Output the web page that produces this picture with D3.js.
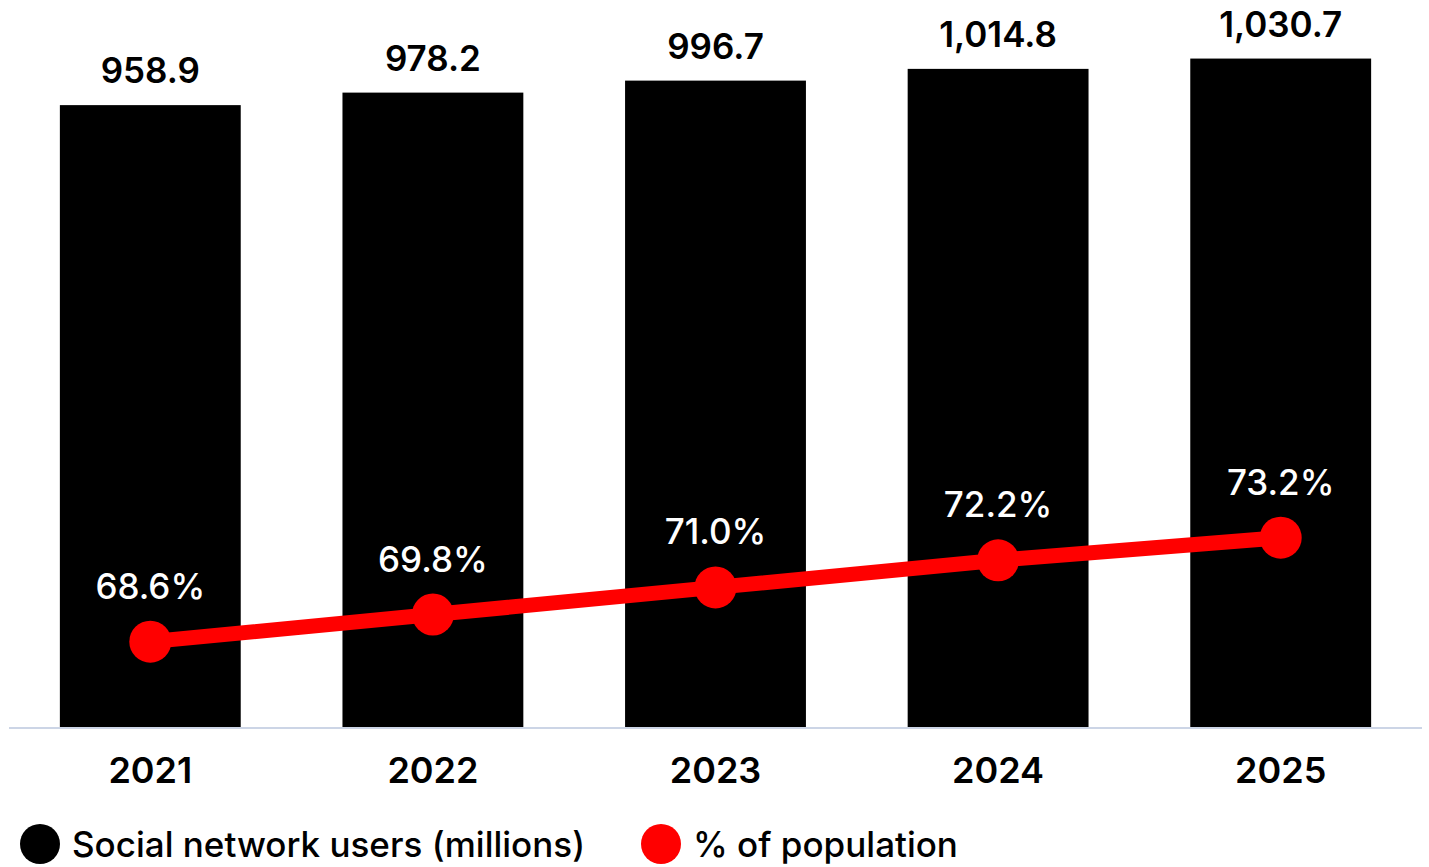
<!DOCTYPE html>
<html>
<head>
<meta charset="utf-8">
<script src="https://cdn.jsdelivr.net/npm/d3@7"></script>
<style>
  body { margin: 0; background: #fff; }
  text { font-family: Inter, "Open Sans", sans-serif; }
</style>
</head>
<body>
<div id="chart"></div>
<script>
const years = ["2021", "2022", "2023", "2024", "2025"];
const users = [958.9, 978.2, 996.7, 1014.8, 1030.7];
const userLabels = ["958.9", "978.2", "996.7", "1,014.8", "1,030.7"];
const pctPop = [68.6, 69.8, 71.0, 72.2, 73.2];
const pctLabels = ["68.6%", "69.8%", "71.0%", "72.2%", "73.2%"];
const legendItems = [
  { label: "Social network users (millions)", color: "#000" },
  { label: "% of population", color: "#ff0000" }
];

const W = 1429, H = 867;
const baseY = 727;

const svg = d3.select("#chart").append("svg")
  .attr("width", W)
  .attr("height", H);

const x = d3.scaleBand().domain(years).range([9, 1422]).paddingInner(0.36).paddingOuter(0.18);
const y = d3.scaleLinear().domain([0, 1121]).range([baseY, 0]);
const y2 = d3.scaleLinear().domain([55, 80]).range([949, 384]);

// bars
svg.append("g").selectAll("rect")
  .data(users)
  .enter().append("rect")
  .attr("x", (d, i) => x(years[i]))
  .attr("y", d => y(d))
  .attr("width", x.bandwidth())
  .attr("height", d => baseY - y(d))
  .attr("fill", "#000");

// baseline
svg.append("line")
  .attr("x1", 9).attr("x2", 1422)
  .attr("y1", baseY + 1).attr("y2", baseY + 1)
  .attr("stroke", "#ccd5e6")
  .attr("stroke-width", 2);

// bar value labels
svg.append("g").selectAll("text")
  .data(users)
  .enter().append("text")
  .attr("x", (d, i) => x(years[i]) + x.bandwidth() / 2)
  .attr("y", d => y(d) - 22)
  .attr("text-anchor", "middle")
  .attr("font-size", 35)
  .attr("font-weight", 600)
  .attr("fill", "#000")
  .text((d, i) => userLabels[i]);

// year labels
svg.append("g").selectAll("text")
  .data(years)
  .enter().append("text")
  .attr("x", d => x(d) + x.bandwidth() / 2)
  .attr("y", 783)
  .attr("text-anchor", "middle")
  .attr("font-size", 36)
  .attr("font-weight", 600)
  .attr("fill", "#000")
  .text(d => d);

// line
const cx = i => x(years[i]) + x.bandwidth() / 2;
svg.append("path")
  .datum(pctPop)
  .attr("fill", "none")
  .attr("stroke", "#ff0000")
  .attr("stroke-width", 15)
  .attr("d", d3.line().x((d, i) => cx(i)).y(d => y2(d)));

svg.append("g").selectAll("circle")
  .data(pctPop)
  .enter().append("circle")
  .attr("cx", (d, i) => cx(i))
  .attr("cy", d => y2(d))
  .attr("r", 21)
  .attr("fill", "#ff0000");

svg.append("g").selectAll("text")
  .data(pctPop)
  .enter().append("text")
  .attr("x", (d, i) => cx(i))
  .attr("y", d => y2(d) - 43)
  .attr("text-anchor", "middle")
  .attr("font-size", 35)
  .attr("font-weight", 500)
  .attr("fill", "#fff")
  .text((d, i) => pctLabels[i]);

// legend
const legendX = [40, 661];
const lg = svg.append("g").selectAll("g")
  .data(legendItems)
  .enter().append("g")
  .attr("transform", (d, i) => `translate(${legendX[i]},844)`);

lg.append("circle")
  .attr("r", 20)
  .attr("fill", d => d.color);

lg.append("text")
  .attr("x", 32)
  .attr("y", 13)
  .attr("font-size", 35)
  .attr("font-weight", 500)
  .attr("fill", "#000")
  .text(d => d.label);
</script>
</body>
</html>
